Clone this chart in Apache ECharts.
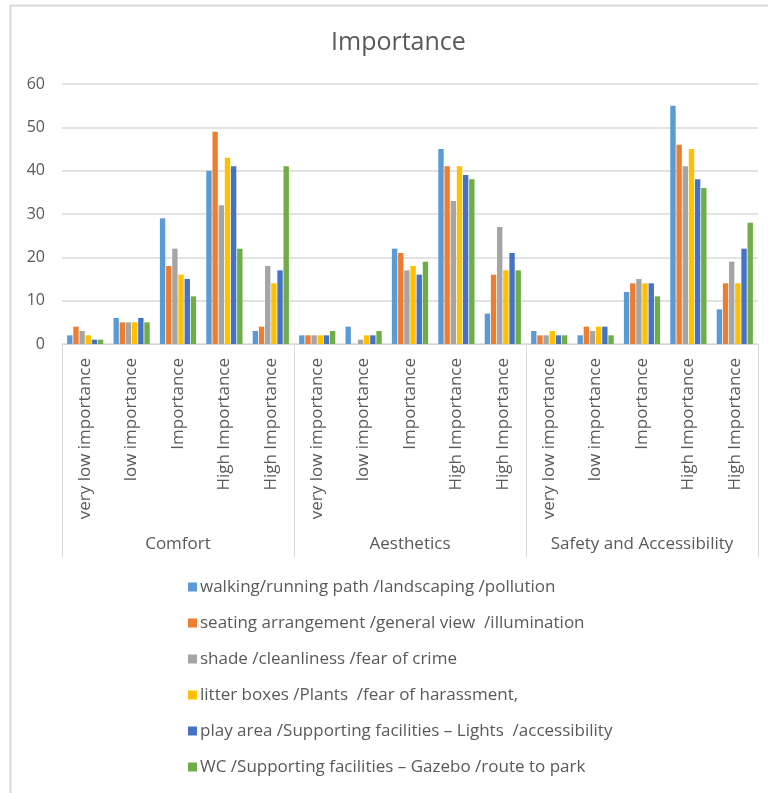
<!DOCTYPE html>
<html>
<head>
<meta charset="utf-8">
<script src="https://cdn.jsdelivr.net/npm/echarts@6/dist/echarts.min.js"></script>
<style>
  html, body { margin: 0; padding: 0; background: #ffffff; }
  #chart { width: 768px; height: 793px; }
</style>
</head>
<body>
<div id="chart"></div>
<script>
// Rating levels repeated inside each aspect group
const levels = ['very low importance', 'low importance', 'Importance', 'High Importance', 'High Importance'];
const groups = ['Comfort', 'Aesthetics', 'Safety and Accessibility'];
const yTicks = [0, 10, 20, 30, 40, 50, 60];

const seriesNames = [
  'walking/running path /landscaping /pollution',
  'seating arrangement /general view  /illumination',
  'shade /cleanliness /fear of crime',
  'litter boxes /Plants  /fear of harassment,',
  'play area /Supporting facilities \u2013 Lights  /accessibility',
  'WC /Supporting facilities \u2013 Gazebo /route to park'
];

// Counts per series, 15 values: Comfort (5 levels), Aesthetics (5), Safety and Accessibility (5)
const pathLandscapingPollution = [2, 6, 29, 40, 3,   2, 4, 22, 45, 7,   3, 2, 12, 55, 8];
const seatingViewIllumination  = [4, 5, 18, 49, 4,   2, 0, 21, 41, 16,  2, 4, 14, 46, 14];
const shadeCleanlinessCrime    = [3, 5, 22, 32, 18,  2, 1, 17, 33, 27,  2, 3, 15, 41, 19];
const litterPlantsHarassment   = [2, 5, 16, 43, 14,  2, 2, 18, 41, 17,  3, 4, 14, 45, 14];
const playLightsAccessibility  = [1, 6, 15, 41, 17,  2, 2, 16, 39, 21,  2, 4, 14, 38, 22];
const wcGazeboRoute            = [1, 5, 11, 22, 41,  3, 3, 19, 38, 17,  2, 2, 11, 36, 28];

const seriesValues = [
  pathLandscapingPollution, seatingViewIllumination, shadeCleanlinessCrime,
  litterPlantsHarassment, playLightsAccessibility, wcGazeboRoute
];
const colors = ['#5B9BD5', '#ED7D31', '#A5A5A5', '#FFC000', '#4472C4', '#70AD47'];

const categories = [];
groups.forEach(() => levels.forEach(l => categories.push(l)));

const textColor = '#595959';
const lineColor = '#d9d9d9';
const font = '"Open Sans", Lato, sans-serif';

const chart = echarts.init(document.getElementById('chart'), null, { renderer: 'canvas' });

chart.setOption({
  backgroundColor: '#ffffff',
  animation: false,
  color: colors,
  textStyle: { fontFamily: font },
  title: {
    text: 'Importance',
    left: 331,
    top: 30,
    padding: 0,
    textStyle: { fontFamily: font, fontSize: 25, fontWeight: 'normal', color: textColor }
  },
  // chart frame: top and left edges
  graphic: [{
    type: 'polyline',
    shape: { points: [[10.5, 793], [10.5, 5.5], [768, 5.5]] },
    style: { fill: 'none', stroke: lineColor, lineWidth: 2 },
    silent: true
  }],
  legend: {
    orient: 'vertical',
    left: 183,
    top: 571,
    itemGap: 14,
    itemWidth: 9,
    itemHeight: 9,
    icon: 'rect',
    textStyle: { fontFamily: font, fontSize: 17, lineHeight: 22, color: textColor, padding: [0, 0, 0, -2] },
    data: seriesNames
  },
  grid: { left: 62, right: 10, top: 84, bottom: 449, containLabel: false },
  xAxis: [
    {
      type: 'category',
      data: categories,
      position: 'bottom',
      offset: 0,
      axisLine: { show: true, lineStyle: { color: lineColor, width: 1 } },
      axisTick: { show: false },
      axisLabel: {
        rotate: 90, interval: 0, margin: 14,
        fontFamily: font, fontSize: 17, color: textColor
      },
      splitLine: { show: false }
    },
    {
      type: 'category',
      data: groups,
      position: 'bottom',
      offset: 0,
      axisLine: { show: false },
      axisTick: { show: true, interval: 0, length: 213, lineStyle: { color: lineColor, width: 1 } },
      axisLabel: { interval: 0, hideOverlap: false, margin: 192, fontFamily: font, fontSize: 17, color: textColor },
      splitLine: { show: false }
    }
  ],
  yAxis: {
    type: 'value',
    min: yTicks[0],
    max: yTicks[yTicks.length - 1],
    interval: yTicks[1] - yTicks[0],
    axisLine: { show: false },
    axisTick: { show: false },
    axisLabel: { margin: 17, fontFamily: font, fontSize: 16, color: textColor },
    splitLine: { lineStyle: { color: lineColor, width: 1.5 } }
  },
  series: seriesNames.map((name, i) => ({
    name: name,
    type: 'bar',
    xAxisIndex: 0,
    data: seriesValues[i],
    barGap: '15%',
    barCategoryGap: '22%',
    itemStyle: { color: colors[i] }
  }))
});
</script>
</body>
</html>
